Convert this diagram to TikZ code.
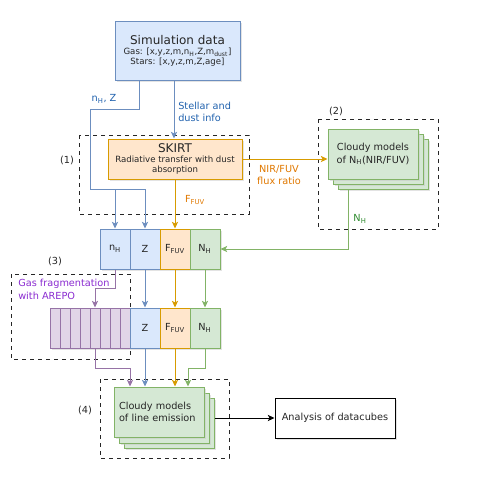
\documentclass[tikz,border=0pt]{standalone}
\usepackage{fontspec}
\setmainfont{DejaVu Sans}
\usetikzlibrary{arrows.meta,shadows}
\definecolor{bluefill}{HTML}{DAE8FC}\definecolor{blueline}{HTML}{6C8EBF}
\definecolor{orfill}{HTML}{FFE6CC}\definecolor{orline}{HTML}{D79B00}
\definecolor{grfill}{HTML}{D5E8D4}\definecolor{grline}{HTML}{82B366}
\definecolor{pufill}{HTML}{E1D5E7}\definecolor{puline}{HTML}{9673A6}
\definecolor{bluetxt}{HTML}{2162AE}\definecolor{ortxt}{HTML}{E07800}
\definecolor{grtxt}{HTML}{2E8B2E}\definecolor{putxt}{HTML}{8A2BD0}
\newcommand{\fbig}{\fontsize{9}{11}\selectfont}
\newcommand{\fmid}{\fontsize{7.3}{9.5}\selectfont}
\newcommand{\fsmall}{\fontsize{6.45}{7}\selectfont}
\begin{document}
\begin{tikzpicture}[x=0.75pt,y=-0.75pt,
  box/.style={draw, line width=0.75pt, inner sep=0pt, align=center, text=black!85,
    drop shadow={shadow xshift=1.6pt, shadow yshift=-1.6pt, fill=black!22}},
  cell/.style={box, minimum width=22.5pt, minimum height=30pt, font=\fmid},
  bcell/.style={cell, fill=bluefill, draw=blueline},
  ocell/.style={cell, fill=orfill, draw=orline},
  gcell/.style={cell, fill=grfill, draw=grline},
  pcell/.style={box, fill=pufill, draw=puline, minimum width=7.5pt, minimum height=30pt},
  cloudy/.style={box, fill=grfill, draw=grline, minimum width=67.5pt, minimum height=37.5pt, font=\fmid},
  dbox/.style={draw=black!85, dashed, line width=0.75pt},
  conn/.style={line width=0.75pt, -{Stealth[length=5pt,width=4.6pt,inset=1.2pt]}},
  lbl/.style={font=\fmid, inner sep=0pt, align=left},
  num/.style={font=\fmid, inner sep=0pt, text=black!85}]
\useasboundingbox (0,0) rectangle (498,479);

% dashed groups
\draw[dbox] (79,135) rectangle (249,214);
\draw[dbox] (318,119) rectangle (438,229);
\draw[dbox] (100,379) rectangle (229,458);
\node[num] (l1) at (67,160) {(1)};
\node[num] (l2) at (336,111) {(2)};
\node[num] (l3) at (55,261) {(3)};
\node[num] (l4) at (85,410) {(4)};

% top boxes
\node[box, fill=bluefill, draw=blueline, minimum width=93.75pt, minimum height=44.25pt, font=\fsmall] (sim) at (177.5,50.5)
  {{\fbig Simulation data}\\[1.2pt]Gas: [x,y,z,m,n\textsubscript{H},Z,m\textsubscript{dust}]\\Stars: [x,y,z,m,Z,age]};
\node[box, fill=orfill, draw=orline, minimum width=100.5pt, minimum height=30pt, font=\fsmall] (skirt) at (175,159)
  {{\fbig SKIRT}\\[0.6pt]Radiative transfer with dust\\absorption};

% cloudy (2)
\node[cloudy] (c2c) at (383,164) {};
\node[cloudy] (c2b) at (378,159) {};
\node[cloudy] (c2a) at (373,154) {Cloudy models\\of N\textsubscript{H}(NIR/FUV)};

% row 1
\node[bcell] (n1) at (115,249) {n\textsubscript{H}};
\node[bcell] (z1) at (145,249) {Z};
\node[ocell] (f1) at (175,249) {F\textsubscript{FUV}};
\node[gcell] (h1) at (205,249) {N\textsubscript{H}};

% dashed (3) and row 2
\draw[dbox] (11,274) rectangle (130,359);
\foreach \i/\x in {1/55,2/65,3/75,4/85,5/95,6/105,7/115,8/125}
  \node[pcell] (p\i) at (\x,328) {};
\node[bcell] (z2) at (145,328) {Z};
\node[ocell] (f2) at (175,328) {F\textsubscript{FUV}};
\node[gcell] (h2) at (205,328) {N\textsubscript{H}};
\node[lbl, text=putxt, anchor=north west] (gf) at (18,279) {Gas fragmentation\\with AREPO};

% cloudy (4)
\node[cloudy] (c4c) at (169,423) {};
\node[cloudy] (c4b) at (164,418) {};
\node[cloudy, align=left, text width=60pt] (c4a) at (159,412) {Cloudy models\\of line emission};
\node[box, fill=white, draw=black, minimum width=90pt, minimum height=30pt, font=\fmid] (an) at (335,418) {Analysis of datacubes};

% connectors
\coordinate (bA) at (139,109);
\coordinate (bB) at (90,109);
\coordinate (bC) at (90,189);
\draw[conn, blueline] (bA |- sim.south) -- (bA) -- (bB) -- (bC) -| (z1.north);
\draw[conn, blueline] (bC) -| (n1.north);
\node[lbl, text=bluetxt] (lnz) at (104,99) {n\textsubscript{H}, Z};
\coordinate (sA) at (174,0);
\draw[conn, blueline] (sA |- sim.south) -- (sA |- skirt.north);
\node[lbl, text=bluetxt, anchor=north west] (lsd) at (178,101.5) {Stellar and\\dust info};

\draw[conn, orline] (skirt.south -| f1.north) -- (f1.north);
\node[lbl, text=ortxt] (lff) at (195,200) {F\textsubscript{FUV}};
\draw[conn, orline] (skirt.east) -- (skirt.east -| c2a.west);
\node[lbl, text=ortxt, align=center] (lnir) at (279,175) {NIR/FUV\\flux ratio};

\coordinate (gA) at (348,0);
\draw[conn, grline] (gA |- c2c.south) -- (gA |- h1.east) -- (h1.east);
\node[lbl, text=grtxt] (lnh) at (360,219) {N\textsubscript{H}};

\draw[conn, puline] (n1.south) -- ++(0,19) -| (p5.north);
\draw[conn, blueline] (z1.south) -- (z2.north);
\draw[conn, orline] (f1.south) -- (f2.north);
\draw[conn, grline] (h1.south) -- (h2.north);

\coordinate (tP) at (130,0);
\coordinate (tG) at (188,0);
\draw[conn, puline] (p5.south) -- ++(0,20) -| (tP |- c4a.north);
\draw[conn, blueline] (z2.south) -- (z2.south |- c4a.north);
\draw[conn, orline] (f2.south) -- (f2.south |- c4a.north);
\draw[conn, grline] (h2.south) -- ++(0,20) -| (tG |- c4a.north);

\draw[conn, black] (an.west -| c4c.east) -- (an.west);
\end{tikzpicture}
\end{document}
